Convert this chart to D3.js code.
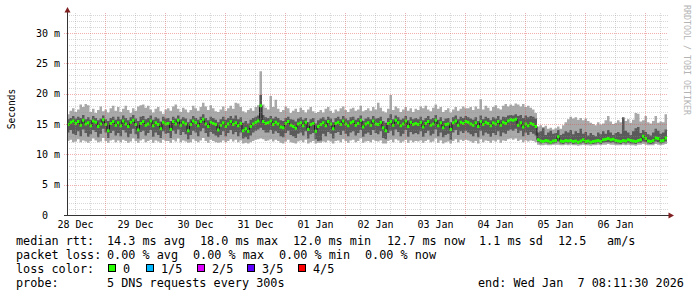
<!DOCTYPE html>
<html>
<head>
<meta charset="utf-8">
<script src="https://cdn.jsdelivr.net/npm/d3@7/dist/d3.min.js"></script>
<style>
  body { margin: 0; background: #fff; }
  text { font-family: "DejaVu Sans Mono", monospace; white-space: pre; }
</style>
</head>
<body>
<svg id="chart" width="697" height="297"></svg>
<script>
// hourly consolidated pings (ms): min, 2nd, median, 4th, max of 5
var pMed = [14.9,15.3,15.5,15.1,15.4,14.8,15.6,15.0,15.2,14.7,15.5,15.3,14.6,15.0,15.7,14.9,13.9,15.1,15.4,14.8,
  15.2,14.7,15.5,15.0,14.6,15.3,15.6,14.9,14.0,15.1,15.4,14.8,15.0,15.5,14.7,15.2,14.9,14.2,15.3,15.0,
  15.1,14.1,15.4,15.0,15.6,14.8,15.3,15.0,13.9,14.9,15.5,15.2,14.7,15.4,15.8,15.0,14.6,15.3,15.1,14.9,
  14.0,14.8,15.2,14.6,15.0,15.4,14.9,15.2,14.7,15.1,13.9,14.2,13.8,14.6,15.0,15.3,15.5,18.0,15.4,15.1,
  15.2,15.5,14.9,15.3,15.0,14.5,14.4,15.1,15.4,14.8,14.6,14.3,15.0,15.2,14.7,15.3,14.1,14.9,15.1,13.8,
  14.6,14.9,15.2,14.7,15.4,15.0,14.2,15.1,15.3,14.9,15.5,15.0,14.7,15.2,15.4,14.8,15.1,15.6,14.5,15.0,
  15.2,14.8,15.5,15.0,14.9,15.3,14.4,13.9,15.1,15.4,14.8,15.6,15.2,14.7,15.0,15.5,14.6,15.3,14.9,15.1,
  14.9,15.3,14.5,15.1,15.4,14.8,15.0,15.6,14.7,15.2,14.4,14.9,15.0,14.1,15.2,15.5,14.8,15.3,15.1,15.4,
  15.3,15.0,14.8,15.2,14.6,15.4,14.9,15.3,15.1,14.7,15.2,15.0,15.4,14.8,15.3,15.1,15.5,15.7,15.6,15.8,
  14.8,15.2,14.5,15.0,14.7,15.1,14.9,14.6,12.4,12.2,12.1,12.3,12.2,12.0,12.2,12.3,12.9,12.2,12.1,12.3,
  12.2,12.3,12.1,12.2,12.0,12.2,12.4,12.1,12.2,12.0,12.1,12.2,12.3,12.1,12.4,12.5,12.6,12.4,12.5,12.3,
  12.2,12.1,12.3,12.2,12.4,12.3,12.2,12.1,12.3,12.4,13.0,12.6,12.2,12.1,12.3,12.7,12.6,12.2,12.3,12.7];

var pMax = [16.6,17.2,17.6,17.0,17.4,18.2,17.8,18.3,18.1,17.0,17.5,16.8,17.3,17.9,17.1,17.4,16.9,17.6,18.0,17.2,
  17.8,17.0,17.5,18.0,17.3,16.8,17.6,17.2,17.9,18.1,18.2,17.7,18.0,17.4,16.9,17.5,17.8,17.1,16.7,17.4,
  17.6,17.2,17.9,18.2,17.5,17.0,17.7,17.4,16.9,17.3,18.0,17.6,17.2,17.8,18.5,17.9,17.3,18.1,17.6,17.1,
  17.0,17.4,17.9,17.2,17.6,18.0,17.5,18.5,18.4,17.8,17.1,16.9,17.3,17.6,17.2,17.8,18.1,23.7,18.2,17.7,
  17.4,19.6,17.8,19.0,17.5,17.0,17.3,17.9,17.6,16.8,17.2,17.5,17.0,17.7,17.3,16.9,17.4,17.8,17.1,16.8,
  17.0,17.3,16.9,17.5,17.8,17.2,16.8,17.4,17.1,17.6,17.9,17.3,17.0,17.5,17.7,17.2,17.4,18.0,17.1,17.3,
  17.6,17.2,17.8,17.4,18.5,17.7,17.1,16.9,17.5,19.8,17.3,17.9,17.6,17.0,17.4,17.8,17.2,17.6,17.0,17.5,
  17.3,17.9,17.6,18.0,17.4,17.1,17.7,18.2,17.5,17.8,17.0,17.3,17.6,16.9,17.4,17.8,17.2,17.5,17.9,17.6,
  17.6,17.8,17.3,17.9,17.5,19.1,17.4,18.0,17.7,17.2,17.8,18.1,17.6,17.4,18.0,18.3,17.9,18.2,18.0,18.4,
  18.2,17.9,18.3,17.8,18.0,17.7,17.4,16.8,14.6,14.8,14.5,14.7,14.2,14.4,14.1,14.3,14.6,14.2,14.8,15.3,
  15.8,16.2,15.9,16.1,15.7,16.0,15.6,15.9,15.5,15.2,15.0,14.8,15.3,14.9,15.1,15.6,16.3,15.4,15.0,15.2,
  15.6,15.3,16.0,15.5,15.8,15.2,15.7,16.8,16.7,15.4,15.6,16.3,15.3,15.1,15.5,16.3,15.2,15.4,15.3,16.6];

var p4 = [15.8,16.0,16.3,15.9,16.2,16.0,16.5,15.8,16.1,15.7,16.3,16.0,15.6,15.9,16.4,15.8,15.5,16.0,16.2,15.7,
  16.2,15.8,16.4,16.0,15.6,16.1,16.5,15.9,15.5,16.2,16.3,15.8,16.0,16.4,15.7,16.1,15.9,15.4,16.2,15.9,
  16.0,15.5,16.2,15.9,16.4,15.8,16.1,15.9,15.3,15.8,16.3,16.0,15.7,16.2,16.6,16.0,15.6,16.2,16.0,15.7,
  15.3,15.8,16.2,15.7,16.0,16.3,15.9,16.4,15.8,16.1,15.2,15.5,15.1,15.7,16.0,16.2,16.4,19.8,16.5,16.1,
  16.0,16.3,15.9,16.2,16.0,15.6,15.5,16.0,16.2,15.8,15.7,15.4,15.9,16.1,15.7,16.0,15.3,15.8,16.0,15.1,
  15.6,15.9,16.1,15.7,16.2,15.9,15.3,16.0,16.2,15.8,16.3,15.9,15.6,16.1,16.2,15.7,16.0,16.4,15.5,15.9,
  16.1,15.8,16.3,15.9,16.0,16.2,15.5,15.2,16.0,16.6,15.8,16.4,16.1,15.7,15.9,16.3,15.6,16.1,15.8,16.0,
  15.8,16.2,15.6,16.0,16.3,15.8,16.0,16.5,15.7,16.1,15.5,15.9,16.0,15.3,16.1,16.4,15.8,16.2,16.0,16.3,
  16.1,15.9,15.7,16.1,15.5,16.4,15.8,16.2,16.0,15.6,16.1,15.9,16.3,15.7,16.2,16.1,16.4,16.5,16.4,16.6,
  16.3,16.5,16.0,16.4,16.1,16.3,16.2,15.9,13.6,13.8,14.3,13.2,13.6,13.9,13.4,13.5,14.0,13.2,13.4,13.8,
  13.6,14.0,13.3,13.8,13.5,14.2,13.4,13.7,13.1,13.5,13.2,13.0,13.6,13.3,13.8,13.4,14.0,13.6,13.2,13.5,
  13.7,13.4,16.1,13.9,13.6,13.2,13.8,14.3,14.5,13.5,14.0,13.7,13.3,13.1,13.6,14.2,13.9,13.4,13.6,14.1];

var p2 = [13.6,14.0,13.4,13.2,13.8,13.0,14.1,13.5,12.9,13.3,14.0,13.7,12.8,13.4,14.2,13.6,12.7,13.5,13.9,13.1,
  13.5,13.0,14.0,13.6,12.8,13.4,14.2,13.3,12.6,13.7,13.9,13.1,13.5,14.0,12.9,13.6,13.2,12.7,13.8,13.4,
  13.5,12.7,13.9,13.4,14.1,13.2,13.7,13.3,12.5,13.2,13.9,13.6,13.0,13.8,14.3,13.5,12.9,13.7,13.4,13.1,
  12.8,13.2,13.8,13.0,13.5,14.0,13.3,13.7,13.0,13.6,12.6,12.8,12.5,13.1,13.6,13.9,14.1,14.4,14.0,13.6,
  13.6,14.0,13.4,13.8,13.5,13.0,12.8,13.5,13.9,13.2,13.0,12.7,13.4,13.6,13.1,13.8,12.6,13.3,13.5,12.5,
  12.2,12.3,13.4,13.0,13.7,13.4,12.6,13.5,13.7,13.2,13.9,13.4,13.0,13.6,13.8,13.1,13.5,14.0,12.9,13.4,
  13.6,13.2,14.0,13.5,13.3,13.8,12.7,12.5,13.5,13.9,13.1,14.1,13.7,13.0,13.4,14.0,12.9,13.7,13.3,13.5,
  13.3,13.8,12.9,13.5,13.9,13.1,13.4,14.1,13.0,13.6,12.8,13.2,13.4,12.4,13.6,14.0,13.2,13.8,13.5,13.9,
  13.6,13.3,13.0,13.5,12.8,13.9,13.1,13.6,13.4,12.9,13.5,13.2,13.8,13.0,13.6,13.4,13.9,14.1,13.9,14.2,
  13.5,13.9,13.0,13.6,13.2,13.7,13.4,13.1,12.0,11.8,11.9,11.9,11.8,11.7,11.8,11.9,12.1,11.8,11.7,11.9,
  11.8,11.9,11.7,11.8,11.7,11.8,11.9,11.7,11.8,11.7,11.7,11.8,11.9,11.7,11.9,12.0,12.0,11.9,12.0,11.8,
  11.8,11.7,11.9,11.8,11.9,11.8,11.8,11.7,11.9,11.9,12.1,12.0,11.8,11.7,11.8,12.1,12.0,11.8,11.9,12.1];

var pMin = [12.2,12.4,12.0,12.1,12.5,12.0,12.3,12.1,11.9,12.2,12.6,12.3,12.0,12.1,12.7,12.2,11.9,12.3,12.4,12.0,
  12.3,12.0,12.4,12.2,11.9,12.1,12.6,12.2,11.9,12.3,12.5,12.0,12.2,12.4,11.9,12.3,12.1,11.9,12.4,12.2,
  12.2,11.9,12.4,12.1,12.6,12.0,12.3,12.1,11.9,12.0,12.5,12.2,12.0,12.3,12.7,12.2,11.9,12.4,12.2,12.0,
  11.9,12.0,12.3,12.0,12.2,12.5,12.1,12.4,12.0,12.3,11.8,11.9,11.8,12.0,12.2,12.4,12.5,12.6,12.5,12.2,
  12.3,12.5,12.1,12.4,12.2,11.9,11.8,12.1,12.4,12.0,11.9,11.8,12.1,12.3,12.0,12.4,11.8,12.0,12.2,11.8,
  11.9,11.9,12.1,12.0,12.3,12.1,11.8,12.2,12.3,12.0,12.5,12.2,11.9,12.3,12.4,12.0,12.2,12.6,11.9,12.1,
  12.2,12.0,12.4,12.2,12.1,12.3,11.8,11.8,12.2,12.4,12.0,12.5,12.3,11.9,12.1,12.4,11.9,12.3,12.0,12.2,
  12.1,12.3,11.9,12.2,12.4,12.0,12.1,12.6,11.9,12.3,11.8,12.0,12.1,11.8,12.2,12.5,12.0,12.4,12.2,12.4,
  12.3,12.1,11.9,12.2,11.8,12.5,12.0,12.3,12.2,11.9,12.3,12.1,12.4,11.9,12.3,12.2,12.5,12.6,12.4,12.6,
  12.2,12.4,12.0,12.3,12.1,12.3,12.2,12.0,11.6,11.5,11.5,11.6,11.5,11.5,11.6,11.6,11.6,11.5,11.5,11.6,
  11.5,11.6,11.5,11.5,11.4,11.5,11.6,11.5,11.5,11.4,11.5,11.5,11.6,11.5,11.6,11.6,11.7,11.6,11.6,11.5,
  11.5,11.5,11.6,11.5,11.6,11.5,11.5,11.4,11.6,11.6,11.7,11.6,11.5,11.5,11.5,11.7,11.6,11.5,11.6,11.7];

var yTicks = [0, 5, 10, 15, 20, 25, 30];
var lossLabels = ["0", "1/5", "2/5", "3/5", "4/5"];
var lossColors = ["#26ff00", "#00b8ff", "#dd00ff", "#5e00ff", "#ff0000"];
var statsRtt = ["median rtt:", "14.3 ms avg", "18.0 ms max", "12.0 ms min", "12.7 ms now", "1.1 ms sd", "12.5", "am/s"];
var statsLoss = ["packet loss:", "0.00 % avg", "0.00 % max", "0.00 % min", "0.00 % now"];
var probeText = ["probe:", "5 DNS requests every 300s", "end: Wed Jan  7 08:11:30 2026"];

var svg = d3.select("#chart");
var start = new Date(2025, 11, 28, 8, 48), end = new Date(2026, 0, 7, 8, 48);

var x = d3.scaleTime().domain([start, end]).range([67, 667]);
var y = d3.scaleLinear().domain([0, 33.3]).range([215, 13]);

var data = pMed.map(function (m, i) {
  return { t: d3.timeHour.offset(start, i), lo: pMin[i], q2: p2[i], med: m, q4: p4[i], hi: pMax[i] };
});
var last = data[data.length - 1];
var steps = data.concat([Object.assign({}, last, { t: end })]);

// smoke
svg.append("path").datum(steps)
  .attr("fill", "#a9a9a9")
  .attr("d", d3.area().curve(d3.curveStepAfter)
    .x(function (d) { return x(d.t); })
    .y0(function (d) { return y(d.lo); })
    .y1(function (d) { return y(d.hi); }));

svg.append("path").datum(steps)
  .attr("fill", "#5a5a5a")
  .attr("d", d3.area().curve(d3.curveStepAfter)
    .x(function (d) { return x(d.t); })
    .y0(function (d) { return y(d.q2); })
    .y1(function (d) { return y(d.q4); }));

// median
svg.append("path").datum(steps)
  .attr("fill", "none").attr("stroke", "#1a1a1a").attr("stroke-width", 1)
  .attr("d", d3.line().curve(d3.curveStepAfter)
    .x(function (d) { return x(d.t); })
    .y(function (d) { return y(d.med); }));

svg.append("path").datum(steps)
  .attr("fill", lossColors[0])
  .attr("d", d3.area().curve(d3.curveStepAfter)
    .x(function (d) { return x(d.t); })
    .y0(function (d) { return y(d.med) + 1.5; })
    .y1(function (d) { return y(d.med) - 1.5; }));

// grid on top
var grid = svg.append("g").attr("shape-rendering", "crispEdges");
var hours = d3.timeHour.every(6).range(start, end);
grid.selectAll(".vg").data(hours).enter().append("line")
  .attr("x1", function (d) { return Math.round(x(d)) + 0.5; })
  .attr("x2", function (d) { return Math.round(x(d)) + 0.5; })
  .attr("y1", 13).attr("y2", function (d) { return d.getHours() === 0 ? 218 : 215; })
  .attr("stroke", function (d) { return d.getHours() === 0 ? "rgba(222,79,79,0.45)" : "rgba(143,143,143,0.35)"; })
  .attr("stroke-dasharray", "1,1");

var ms = d3.range(0, 34);
grid.selectAll(".hg").data(ms).enter().append("line")
  .attr("x1", function (d) { return d % 5 === 0 ? 64 : 67; }).attr("x2", 668)
  .attr("y1", function (d) { return Math.round(y(d)) + 0.5; })
  .attr("y2", function (d) { return Math.round(y(d)) + 0.5; })
  .attr("stroke", function (d) { return d % 5 === 0 ? "rgba(222,79,79,0.45)" : "rgba(143,143,143,0.35)"; })
  .attr("stroke-dasharray", "1,1");

// axes lines + arrows
svg.append("line").attr("x1", 67.5).attr("x2", 67.5).attr("y1", 216).attr("y2", 10)
  .attr("stroke", "#333");
svg.append("line").attr("x1", 64).attr("x2", 670).attr("y1", 215.5).attr("y2", 215.5)
  .attr("stroke", "#333");
svg.append("path").attr("d", "M64.5,12.5 L67.5,7 L70.5,12.5 Z").attr("fill", "#801f1f");
svg.append("path").attr("d", "M668.5,212.5 L674,215.5 L668.5,218.5 Z").attr("fill", "#801f1f");

// axis labels
var noons = d3.timeDay.range(d3.timeDay.floor(start), end)
  .map(function (d) { return d3.timeHour.offset(d, 12); })
  .filter(function (d) { return d < end; });

var xAxis = svg.append("g").attr("transform", "translate(0,215)")
  .call(d3.axisBottom(x).tickValues(noons).tickSize(0).tickPadding(6)
    .tickFormat(d3.timeFormat("%d %b")));
xAxis.select(".domain").remove();

var yAxis = svg.append("g").attr("transform", "translate(60,0)")
  .call(d3.axisLeft(y).tickValues(yTicks).tickSize(0).tickPadding(0)
    .tickFormat(function (d) { return d === 0 ? "0  " : d + " m"; }));
yAxis.select(".domain").remove();

svg.selectAll(".tick text")
  .attr("font-family", "DejaVu Sans Mono").attr("font-size", "10px").attr("fill", "#000");

svg.append("text")
  .attr("transform", "translate(15,109) rotate(-90)")
  .attr("text-anchor", "middle")
  .attr("font-size", "9.6px")
  .text("Seconds");

svg.append("text")
  .attr("transform", "translate(684,5) rotate(90)")
  .attr("font-size", "8.3px")
  .attr("fill", "#b4b4b4")
  .text("RRDTOOL / TOBI OETIKER");

// legend
var fs = "11.8px";
var rttX = [16, 107, 200, 293, 387, 479, 558, 607];
svg.selectAll(".rtt").data(statsRtt).enter().append("text")
  .attr("x", function (d, i) { return rttX[i]; }).attr("y", 245)
  .attr("font-size", fs).text(function (d) { return d; });

var lossX = [16, 107, 193, 279, 365];
svg.selectAll(".loss").data(statsLoss).enter().append("text")
  .attr("x", function (d, i) { return lossX[i]; }).attr("y", 259)
  .attr("font-size", fs).text(function (d) { return d; });

svg.append("text").attr("x", 16).attr("y", 272.5).attr("font-size", fs).text("loss color:");
var boxX = [108, 146, 197, 247, 298];
var lc = svg.selectAll(".lc").data(lossLabels).enter().append("g");
lc.append("rect")
  .attr("x", function (d, i) { return boxX[i] + 0.5; }).attr("y", 264.5)
  .attr("width", 7).attr("height", 7)
  .attr("fill", function (d, i) { return lossColors[i]; })
  .attr("stroke", "#000");
lc.append("text")
  .attr("x", function (d, i) { return boxX[i] + 15; }).attr("y", 272.5)
  .attr("font-size", fs).text(function (d) { return d; });

var probeX = [16, 107, 478];
svg.selectAll(".probe").data(probeText).enter().append("text")
  .attr("x", function (d, i) { return probeX[i]; }).attr("y", 287)
  .attr("font-size", fs).text(function (d) { return d; });
</script>
</body>
</html>
